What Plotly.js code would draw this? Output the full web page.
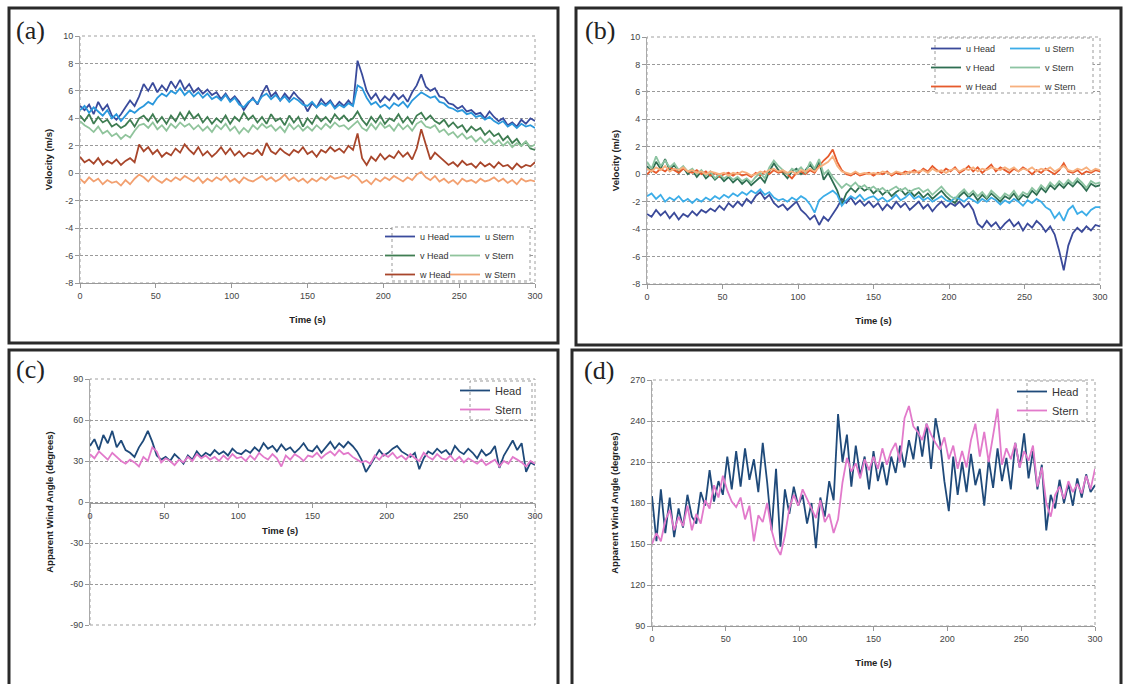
<!DOCTYPE html>
<html>
<head>
<meta charset="utf-8">
<script src="https://cdn.plot.ly/plotly-3.0.1.min.js"></script>
<style>html,body{margin:0;padding:0;background:#fff;}#chart{width:1125px;height:684px;}</style>
</head>
<body>
<div id="chart"></div>
<script>
// ---------- data ----------
const time = [0,3,6,9,12,15,18,21,24,27,30,33,36,39,42,45,48,51,54,57,60,63,66,69,72,75,78,81,84,87,90,93,96,99,102,105,108,111,114,117,120,123,126,129,132,135,138,141,144,147,150,153,156,159,162,165,168,171,174,177,180,183,186,189,192,195,198,201,204,207,210,213,216,219,222,225,228,231,234,237,240,243,246,249,252,255,258,261,264,267,270,273,276,279,282,285,288,291,294,297,300];

// panel (a) velocities, m/s
const aUHead = [4.9,4.6,5.0,4.3,5.2,4.6,5.0,4.2,3.9,4.3, 4.8,5.3,4.9,5.6,6.5,6.0,6.6,5.9,6.4,6.0, 6.7,6.2,6.8,6.1,6.5,5.9,6.2,5.8,6.1,5.7, 5.9,5.4,5.8,5.3,5.6,5.2,4.6,5.1,5.5,5.0, 5.8,6.4,5.6,5.9,5.3,5.8,5.4,5.9,5.5,5.2, 4.5,5.1,4.8,5.4,5.0,5.3,4.8,5.2,4.9,5.3, 4.9,8.2,7.2,6.0,5.4,5.8,5.2,5.6,5.3,5.8, 5.4,5.7,5.2,5.9,6.4,7.2,6.3,6.0,6.2,5.6, 5.5,5.1,5.0,4.7,4.9,4.5,4.6,4.3,4.4,4.0, 4.5,4.1,3.8,4.0,3.5,3.7,3.4,3.9,3.6,4.0, 3.8];
const aUStern = [4.6,4.9,4.4,4.8,4.5,4.2,4.6,4.0,4.3,3.8, 4.2,4.6,4.4,4.7,4.9,5.2,5.0,5.5,5.8,5.6, 6.0,5.8,6.2,5.7,6.0,5.6,5.9,5.5,5.8,5.4, 5.6,5.3,5.7,5.2,5.5,5.0,4.8,5.2,5.4,5.1, 5.6,5.8,5.4,5.7,5.3,5.6,5.2,5.5,5.3,5.0, 4.9,5.2,4.8,5.1,4.9,5.2,4.7,5.0,4.8,5.1, 4.9,6.4,6.2,5.5,5.0,5.2,4.8,5.0,4.7,5.1, 4.9,5.2,4.8,5.3,5.6,5.9,5.7,5.5,5.6,5.2, 5.1,4.8,4.7,4.5,4.6,4.3,4.4,4.1,4.2,3.9, 4.1,3.8,3.6,3.8,3.4,3.6,3.3,3.6,3.4,3.5, 3.3];
const aVHead = [4.2,3.8,4.3,3.6,4.1,3.7,3.9,3.4,3.6,3.3, 3.5,3.9,3.4,4.0,4.2,3.8,4.3,3.7,4.1,3.6, 4.2,3.8,4.4,3.9,4.5,4.0,4.3,3.7,4.1,3.6, 4.0,3.7,4.2,3.6,4.1,3.8,4.4,3.9,4.2,3.7, 4.1,3.6,4.3,3.8,4.0,3.5,4.2,3.7,4.1,3.4, 4.0,3.6,4.2,3.8,4.1,3.7,4.3,3.9,4.2,3.8, 4.0,4.5,3.9,3.5,4.1,3.7,4.2,3.6,4.0,3.8, 4.3,3.7,4.1,3.6,4.2,4.4,3.9,4.2,3.8,3.6, 3.9,3.4,3.7,3.3,3.5,3.0,3.4,3.1,3.3,2.8, 3.1,2.7,2.9,2.4,2.7,2.2,2.5,2.0,2.3,1.8, 1.7];
const aVStern = [3.8,3.5,3.3,3.0,3.4,2.9,3.1,2.7,2.9,2.5, 2.8,2.6,3.1,3.5,3.6,3.3,3.7,3.2,3.5,3.1, 3.6,3.3,3.7,3.4,3.6,3.2,3.5,3.1,3.4,3.0, 3.5,3.2,3.6,3.1,3.4,2.9,3.3,3.0,3.5,3.2, 3.6,3.3,3.5,3.1,3.4,3.0,3.6,3.2,3.5,3.1, 3.4,3.1,3.5,3.2,3.6,3.3,3.7,3.4,3.5,3.2, 3.5,3.8,3.3,3.1,3.6,3.2,3.7,3.3,3.5,3.1, 3.6,3.2,3.5,3.1,3.6,3.8,3.4,3.3,3.5,3.0, 3.2,2.8,3.0,2.6,2.9,2.5,2.7,2.3,2.6,2.2, 2.5,2.1,2.4,2.0,2.3,1.9,2.2,2.0,2.3,1.9, 2.1];
const aWHead = [1.2,0.8,1.0,0.7,1.1,0.6,0.9,0.7,1.0,0.6, 0.9,1.1,0.8,2.1,1.6,1.9,1.4,1.7,1.2,1.5, 1.3,1.8,1.5,2.1,1.7,1.4,1.9,1.3,1.6,1.2, 1.5,1.9,1.4,1.8,1.3,1.6,1.2,1.5,1.4,1.7, 1.3,2.2,1.6,1.4,1.8,1.5,1.3,1.7,1.5,1.9, 1.4,1.6,1.2,1.7,1.5,1.9,1.6,1.8,1.5,2.0, 1.7,2.9,1.1,0.6,1.2,0.9,1.4,1.0,1.3,1.1, 1.6,1.2,1.5,1.0,1.8,3.2,2.1,1.0,1.5,1.2, 0.9,0.6,0.8,0.5,0.9,0.6,0.7,0.4,0.8,0.5, 0.7,0.4,0.8,0.5,0.6,0.3,0.7,0.4,0.6,0.5, 0.8];
const aWStern = [-0.4,-0.7,-0.3,-0.6,-0.4,-0.8,-0.5,-0.7,-0.6,-0.9, -0.5,-0.8,-0.4,-0.1,-0.3,-0.6,-0.2,-0.5,-0.7,-0.4, -0.6,-0.3,-0.5,-0.2,-0.4,-0.6,-0.3,-0.7,-0.4,-0.6, -0.3,-0.5,-0.2,-0.6,-0.4,-0.7,-0.3,-0.5,-0.6,-0.4, -0.2,-0.5,-0.3,-0.6,-0.4,-0.1,-0.5,-0.3,-0.6,-0.4, -0.7,-0.4,-0.6,-0.3,-0.5,-0.2,-0.4,-0.3,-0.2,-0.4, -0.1,-0.3,-0.7,-0.5,-0.8,-0.4,-0.6,-0.3,-0.5,-0.2, -0.4,-0.6,-0.3,-0.5,-0.1,0.1,-0.3,-0.5,-0.2,-0.6, -0.4,-0.7,-0.5,-0.8,-0.4,-0.6,-0.5,-0.7,-0.4,-0.6, -0.5,-0.3,-0.6,-0.4,-0.7,-0.5,-0.8,-0.4,-0.6,-0.5, -0.6];

// panel (b) velocities, m/s
const bUHead = [-2.9,-3.1,-2.6,-3.0,-2.7,-3.2,-2.8,-3.3,-2.9,-3.1, -2.7,-3.0,-2.6,-2.8,-2.5,-2.7,-2.3,-2.6,-2.1,-2.4, -2.0,-2.3,-1.8,-2.1,-1.6,-1.3,-1.8,-1.5,-2.1,-2.4, -2.2,-2.6,-2.3,-2.0,-2.6,-2.9,-3.3,-3.0,-3.7,-3.1, -3.4,-2.9,-2.4,-1.8,-2.1,-1.7,-2.2,-1.9,-2.3,-2.0, -2.4,-2.1,-2.6,-2.2,-2.5,-2.0,-2.4,-2.1,-2.6,-2.3, -2.0,-2.5,-2.2,-2.7,-2.3,-2.0,-2.4,-2.1,-2.3,-2.0, -2.4,-2.1,-2.6,-3.6,-3.9,-3.4,-3.8,-3.5,-4.0,-3.6, -3.3,-3.8,-3.5,-4.1,-3.6,-3.9,-3.4,-3.7,-4.2,-3.8, -4.4,-5.6,-7.0,-5.2,-4.3,-3.9,-4.2,-3.8,-4.1,-3.7, -3.8];
const bUStern = [-1.6,-1.4,-1.8,-1.5,-2.0,-1.7,-1.9,-1.6,-2.0,-1.8, -2.1,-1.8,-2.0,-1.7,-1.9,-1.6,-1.8,-1.5,-1.7,-1.4, -1.6,-1.3,-1.5,-1.2,-1.4,-1.1,-1.5,-1.3,-1.7,-1.9, -1.8,-2.0,-1.7,-1.9,-1.6,-1.8,-2.2,-2.8,-1.9,-1.6, -1.4,-1.2,-1.5,-2.3,-1.9,-1.6,-1.8,-1.5,-1.9,-1.7, -1.6,-1.9,-1.7,-2.0,-1.8,-1.5,-1.9,-1.7,-1.4,-1.8, -1.6,-1.9,-1.7,-2.0,-1.8,-1.6,-1.9,-2.0,-1.7,-1.8, -2.0,-1.7,-1.9,-2.1,-1.8,-2.0,-1.7,-1.9,-2.2,-1.9, -2.1,-1.8,-2.0,-2.3,-1.9,-2.1,-1.8,-2.0,-2.4,-2.6, -3.2,-2.8,-3.4,-2.6,-2.3,-2.9,-2.7,-3.0,-2.6,-2.4, -2.4];
const bVHead = [0.6,0.2,0.9,0.4,1.1,0.3,0.7,0.1,0.5,0.0, 0.3,-0.2,0.2,-0.3,0.0,-0.4,-0.1,-0.5,-0.2,-0.6, -0.3,-0.7,-0.4,-0.8,-0.5,-0.2,-0.6,0.2,0.8,0.3, 0.1,-0.3,0.2,0.4,0.0,0.3,0.7,0.2,0.9,-0.4, 0.1,-0.6,-1.2,-2.2,-1.4,-1.0,-1.3,-0.9,-1.2,-1.0, -1.4,-1.1,-1.5,-1.2,-1.6,-1.3,-1.1,-1.5,-1.2,-1.6, -1.3,-1.7,-1.4,-1.8,-1.5,-1.2,-1.6,-1.9,-2.1,-1.6, -1.3,-1.7,-1.4,-1.9,-1.5,-1.8,-1.4,-1.7,-2.0,-1.6, -1.8,-1.4,-1.9,-1.5,-1.7,-1.2,-1.5,-1.0,-1.3,-0.8, -1.1,-0.7,-1.0,-0.6,-0.9,-0.5,-0.8,-1.2,-0.7,-0.9, -0.8];
const bVStern = [0.9,0.4,1.3,0.6,1.0,0.5,0.8,0.3,0.6,0.2, 0.4,0.0,0.3,-0.1,0.2,-0.3,0.0,-0.3,-0.1,-0.4, -0.2,-0.5,-0.3,-0.6,-0.2,0.1,-0.3,0.5,1.0,0.6, 0.3,0.0,0.4,0.2,0.5,0.1,0.9,0.4,1.1,0.0, 0.3,-0.2,-0.6,-1.0,-0.7,-0.9,-0.6,-1.0,-0.8,-1.1, -0.9,-1.2,-1.0,-1.3,-1.1,-0.9,-1.2,-1.0,-1.3,-1.1, -1.0,-1.3,-1.1,-1.5,-1.2,-0.9,-1.3,-1.6,-1.8,-1.4, -1.1,-1.5,-1.2,-1.6,-1.3,-1.7,-1.2,-1.5,-1.8,-1.4, -1.6,-1.2,-1.7,-1.3,-1.5,-1.0,-1.3,-0.8,-1.1,-0.6, -0.9,-0.5,-0.8,-0.4,-0.7,-0.3,-0.6,-1.0,-0.5,-0.7, -0.6];
const bWHead = [0.0,0.3,0.1,0.4,0.2,0.5,0.3,0.1,0.4,0.2, 0.1,0.3,0.0,0.2,-0.1,0.1,-0.2,0.0,0.1,-0.1, 0.1,-0.1,0.0,-0.2,0.1,-0.1,0.2,0.0,0.3,0.1, 0.2,0.0,-0.3,0.1,0.2,0.0,0.3,0.1,0.6,1.0, 1.3,1.8,0.9,0.3,0.0,-0.1,0.1,-0.1,0.0,0.1, -0.1,0.1,0.0,0.2,-0.1,0.1,0.0,0.2,0.1,0.3, 0.1,0.4,0.2,0.6,0.3,0.1,0.4,0.2,0.5,0.1, 0.3,0.6,0.2,0.5,0.1,0.4,0.7,0.2,0.5,0.3, 0.1,0.4,0.2,0.5,0.3,0.0,0.3,0.1,0.4,0.2, 0.0,0.3,0.8,0.2,0.1,0.3,0.0,0.2,0.1,0.3, 0.2];
const bWStern = [0.4,0.2,0.5,0.3,0.6,0.2,0.4,0.3,0.5,0.2, 0.3,0.1,0.2,0.0,0.2,0.1,0.0,0.1,-0.1,0.1, 0.0,0.2,0.1,-0.1,0.0,0.2,0.1,0.3,0.4,0.2, 0.3,0.1,0.2,0.0,0.3,0.2,0.4,0.2,0.5,0.7, 0.9,1.3,0.6,0.2,0.1,0.0,0.2,0.0,0.1,0.0, 0.1,0.0,0.2,0.1,0.0,0.2,0.1,0.0,0.2,0.1, 0.2,0.3,0.1,0.4,0.2,0.3,0.1,0.3,0.4,0.2, 0.4,0.3,0.5,0.2,0.4,0.3,0.5,0.4,0.3,0.5, 0.3,0.5,0.2,0.4,0.3,0.5,0.2,0.4,0.3,0.5, 0.2,0.4,0.6,0.3,0.2,0.4,0.3,0.5,0.2,0.4, 0.3];

// panel (c) apparent wind angle, degrees
const cHead = [41,46,38,49,43,52,40,45,38,36, 33,40,45,52,44,34,31,33,30,35, 32,28,34,31,37,33,36,34,38,35, 37,34,39,36,35,38,36,40,37,43, 39,41,37,42,38,40,36,39,43,38, 37,41,36,40,44,39,43,40,44,41, 37,31,22,27,33,38,34,36,39,41, 37,35,33,36,24,32,37,35,39,36, 38,34,41,37,35,39,36,32,38,34, 36,41,25,34,40,45,38,43,22,29, 27];
const cStern = [35,32,37,34,31,36,33,30,28,31, 29,26,33,30,40,37,29,32,30,27, 31,29,33,30,35,32,34,31,33,30, 34,31,35,32,33,30,34,31,36,33, 31,35,32,26,34,31,35,33,30,34, 33,36,32,35,37,34,38,35,36,33, 31,29,30,28,34,31,35,33,36,32, 34,31,35,32,30,36,33,31,35,32, 31,34,30,33,29,32,30,28,31,27, 29,31,26,30,28,33,31,29,26,30, 28];

// panel (d) apparent wind angle, degrees
const dHead = [185,152,190,158,184,155,176,162,186,170, 165,188,178,204,181,196,186,214,190,218, 192,220,197,212,188,224,195,160,205,148, 190,172,192,178,186,165,180,147,184,170, 196,182,245,210,230,192,222,200,214,190, 218,196,210,193,214,202,222,206,226,212, 236,214,238,205,242,225,196,174,214,186, 210,188,216,193,205,178,212,191,220,196, 213,190,224,206,231,198,218,190,208,160, 186,176,197,180,194,178,198,184,201,188, 193];
const dStern = [150,158,152,167,175,160,170,163,178,160, 172,165,182,176,193,184,200,189,181,177, 184,168,178,152,171,166,180,160,148,142, 156,176,186,178,190,183,177,169,182,166, 172,158,168,195,213,203,209,198,212,204, 214,205,220,208,218,224,210,242,251,236, 232,226,238,230,224,219,228,212,222,205, 218,206,226,238,214,232,210,228,249,208, 220,212,224,206,218,211,222,192,206,180, 170,186,192,183,196,188,194,187,200,190, 205];

// tick labels
const timeTicks = [0,50,100,150,200,250,300];
const timeTickText = ['0','50','100','150','200','250','300'];
const velTicks = [10,8,6,4,2,0,-2,-4,-6,-8];
const velTickText = ['10','8','6','4','2','0','-2','-4','-6','-8'];
const angTicksC = [90,60,30,0,-30,-60,-90];
const angTickTextC = ['90','60','30','0','-30','-60','-90'];
const angTicksD = [270,240,210,180,150,120,90];
const angTickTextD = ['270','240','210','180','150','120','90'];

// ---------- layout helpers ----------
const W = 1125, H = 684;
const px = v => v / W;
const py = v => 1 - v / H;
const FONT = 'Liberation Sans, Arial, sans-serif';
const tickFont = {family: FONT, size: 9, color: '#444'};
const titleFont = {family: FONT, size: 9.5, color: '#222', weight: 'bold'};

function xAxis(l, r, anchor, extra) {
  return Object.assign({
    domain: [px(l), px(r)], range: [0, 300], anchor: anchor,
    tickmode: 'array', tickvals: timeTicks, ticktext: timeTickText,
    ticks: 'outside', ticklen: 4, tickcolor: '#999', tickfont: tickFont,
    showgrid: false, zeroline: false, showline: true, linecolor: '#999', linewidth: 1,
    title: {text: 'Time (s)', font: titleFont, standoff: 16}, fixedrange: true
  }, extra || {});
}
function yAxis(t, b, anchor, range, vals, text, title, standoff, extra) {
  return Object.assign({
    domain: [py(b), py(t)], range: range, anchor: anchor,
    tickmode: 'array', tickvals: vals, ticktext: text,
    ticks: 'outside', ticklen: 4, tickcolor: '#999', tickfont: tickFont,
    showgrid: true, gridcolor: '#9a9a9a', griddash: '3px,2px', gridwidth: 1,
    zeroline: false, showline: true, linecolor: '#aaa', linewidth: 1,
    title: {text: title, font: titleFont, standoff: standoff}, fixedrange: true
  }, extra || {});
}

function tr(y, name, color, xa, ya, legend, width) {
  return {x: time, y: y, name: name, type: 'scatter', mode: 'lines',
    line: {color: color, width: width || 1.8}, xaxis: xa, yaxis: ya, legend: legend};
}

const data = [
  tr(aUHead, 'u Head', '#3a4b9c', 'x', 'y', 'legend'),
  tr(aVHead, 'v Head', '#3f7d52', 'x', 'y', 'legend'),
  tr(aWHead, 'w Head', '#a8462b', 'x', 'y', 'legend'),
  tr(aUStern, 'u Stern', '#2a98dc', 'x', 'y', 'legend2'),
  tr(aVStern, 'v Stern', '#90c49c', 'x', 'y', 'legend2'),
  tr(aWStern, 'w Stern', '#f2a070', 'x', 'y', 'legend2'),

  tr(bUHead, 'u Head', '#3b4a9a', 'x2', 'y2', 'legend3'),
  tr(bVHead, 'v Head', '#2f6e52', 'x2', 'y2', 'legend3'),
  tr(bWHead, 'w Head', '#e65a2c', 'x2', 'y2', 'legend3'),
  tr(bUStern, 'u Stern', '#3cade8', 'x2', 'y2', 'legend4'),
  tr(bVStern, 'v Stern', '#8dc4a2', 'x2', 'y2', 'legend4'),
  tr(bWStern, 'w Stern', '#f7b07e', 'x2', 'y2', 'legend4'),

  tr(cHead, 'Head', '#1f4a7a', 'x3', 'y3', 'legend5', 1.8),
  tr(cStern, 'Stern', '#e27acb', 'x3', 'y3', 'legend5', 1.8),

  tr(dHead, 'Head', '#1f4a7a', 'x4', 'y4', 'legend6', 1.8),
  tr(dStern, 'Stern', '#e27acb', 'x4', 'y4', 'legend6', 1.8)
];

function legendAt(x, y, size) {
  return {x: px(x), y: py(y), xanchor: 'left', yanchor: 'top',
    bgcolor: 'rgba(0,0,0,0)', borderwidth: 0, itemwidth: 30,
    font: {family: FONT, size: size, color: '#333'}, tracegroupgap: 0};
}

function frame(x0, y0, x1, y1) {
  return {type: 'rect', xref: 'paper', yref: 'paper', x0: px(x0), x1: px(x1), y0: py(y1), y1: py(y0),
    line: {color: '#2a2a2a', width: 3}, fillcolor: 'rgba(0,0,0,0)', layer: 'above'};
}
function plotBorder(xa, ya) {
  return {type: 'rect', xref: xa + ' domain', yref: ya + ' domain', x0: 0, x1: 1, y0: 0, y1: 1,
    line: {color: '#a0a0a0', width: 1, dash: 'dot'}, fillcolor: 'rgba(0,0,0,0)', layer: 'below'};
}
function legBox(x0, y0, x1, y1) {
  return {type: 'rect', xref: 'paper', yref: 'paper', x0: px(x0), x1: px(x1), y0: py(y1), y1: py(y0),
    line: {color: '#999', width: 1, dash: 'dot'}, fillcolor: '#ffffff', layer: 'above'};
}
function panelLabel(text, x, y) {
  return {text: text, xref: 'paper', yref: 'paper', x: px(x), y: py(y), xanchor: 'left', yanchor: 'middle',
    showarrow: false, font: {family: 'Liberation Serif, Times New Roman, serif', size: 26, color: '#222'}};
}

const layout = {
  width: W, height: H, margin: {l: 0, r: 0, t: 0, b: 0},
  paper_bgcolor: '#ffffff', plot_bgcolor: 'rgba(0,0,0,0)', showlegend: true,
  xaxis: xAxis(80, 535, 'y'),
  yaxis: yAxis(36, 283, 'x', [-8, 10], velTicks, velTickText, 'Velocity (m/s)', 8),
  xaxis2: xAxis(647, 1100, 'y2'),
  yaxis2: yAxis(37, 284, 'x2', [-8, 10], velTicks, velTickText, 'Velocity (m/s)', 8),
  xaxis3: xAxis(90, 535, 'free', {position: py(503), title: {text: ''}}),
  yaxis3: yAxis(379, 625, 'x3', [-90, 90], angTicksC, angTickTextC, 'Apparent Wind Angle (degrees)', 14),
  xaxis4: xAxis(652, 1095, 'y4'),
  yaxis4: yAxis(380, 626, 'x4', [90, 270], angTicksD, angTickTextD, 'Apparent Wind Angle (degrees)', 9),
  legend: legendAt(380, 222, 9),
  legend2: legendAt(445, 222, 9),
  legend3: legendAt(926, 34, 9),
  legend4: legendAt(1005, 34, 9),
  legend5: legendAt(455, 376, 11),
  legend6: legendAt(1012, 377, 11),
  shapes: [
    plotBorder('x', 'y'), plotBorder('x2', 'y2'), plotBorder('x3', 'y3'), plotBorder('x4', 'y4'),
    legBox(392, 227, 530, 281), legBox(935, 38, 1093, 93), legBox(470, 381, 532, 420), legBox(1027, 381, 1087, 421),
    frame(9, 8, 558, 343), frame(576, 8, 1121, 345), frame(9, 350, 558, 690), frame(572, 350, 1121, 690)
  ],
  annotations: [
    panelLabel('(a)', 14, 30), panelLabel('(b)', 583, 31), panelLabel('(c)', 14, 369), panelLabel('(d)', 582, 370),
    {text: 'Time (s)', xref: 'paper', yref: 'paper', x: px(280), y: py(530), xanchor: 'center', yanchor: 'middle',
     showarrow: false, font: titleFont}
  ]
};

Plotly.newPlot('chart', data, layout, {staticPlot: true, displayModeBar: false});
</script>
</body>
</html>
